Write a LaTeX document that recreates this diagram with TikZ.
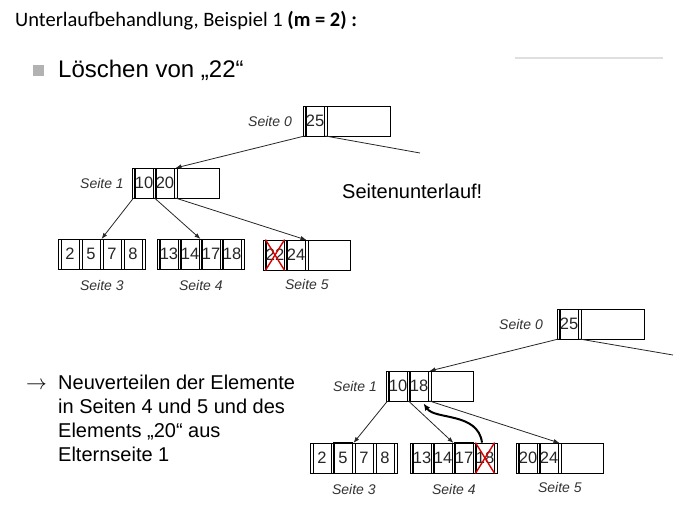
\documentclass[tikz,border=0pt]{standalone}
\usepackage{fontspec}
\setmainfont{Liberation Sans}
\newfontfamily\calibri{Carlito}
\usepackage{tikz}
\usetikzlibrary{calc,positioning,arrows.meta}
% one B-tree page: name, x, y (top left), keys
\newcommand{\bpage}[4]{%
  \node[pagebox] (#1) at (#2,#3) {};
  \coordinate (#1-p0) at ({#2+1.5},{#3+30});
  \coordinate (#1-q0) at ({#2+1.5},#3);
  \draw[cell] ({#2+3},#3) -- ++(0,30);
  \foreach \kv [count=\i] in {#4} {
    \node[keycell] (#1-k\i) at ({#2+21*\i-9},{#3+15}) {\kv};
    \coordinate (#1-p\i) at ({#2+21*\i+1.5},{#3+30});
    \coordinate (#1-q\i) at ({#2+21*\i+1.5},#3);
    \draw[cell] ({#2+21*\i+3},#3) -- ++(0,30);
  }
}
\def\crossout#1{\draw[redx] (#1.north west) -- (#1.south east) (#1.north east) -- (#1.south west);}

\begin{document}
\begin{tikzpicture}[x=1pt,y=-1pt,
    pagebox/.style={draw, line width=0.8pt, minimum width=87pt, minimum height=30pt, inner sep=0pt, anchor=north west},
    cell/.style={line width=0.8pt},
    keycell/.style={draw, line width=0.8pt, minimum width=18pt, minimum height=30pt, inner sep=0pt, text=black!85, font=\fontsize{16.5}{16.5}\selectfont},
    lbl/.style={font=\fontsize{14}{14}\selectfont\itshape, text=black!80, inner sep=0pt},
    ptr/.style={draw=black!85, line width=0.8pt, -{Latex[length=6pt,width=4.5pt]}},
    redx/.style={draw=red!85!black, line width=1.4pt},
    hl/.style={line width=1.6pt}]
	%%%%% START %%%%%
	\useasboundingbox (0,0) rectangle (690,506);
	
	\node[anchor=base west, inner sep=0pt, font=\calibri\fontsize{20.5}{20.5}\selectfont] (title) at (15,26) {Unterlaufbehandlung, Beispiel 1 \textbf{(m = 2) :}};
	\draw[gray!25, line width=1.5pt] (515,58) -- (663,58);
	
	\fill[gray!60] (33,65) rectangle (44,76);
	\node[anchor=base west, inner sep=0pt, font=\fontsize{24}{24}\selectfont] (loeschen) at (58,77) {Löschen von „22“};
	
	% before
	\bpage{s0a}{303}{106}{25}
	\bpage{s1a}{132}{168}{10,20}
	\bpage{s3a}{58}{239}{2,5,7,8}
	\bpage{s4a}{157}{239}{13,14,17,18}
	\bpage{s5a}{263}{240}{22,24}
	\crossout{s5a-k1}
	
	\node[lbl, left=11pt of s0a] {Seite 0};
	\node[lbl, left=8pt of s1a] {Seite 1};
	\node[lbl, below=10pt of s3a] {Seite 3};
	\node[lbl, below=10pt of s4a] {Seite 4};
	\node[lbl, below=8pt of s5a] {Seite 5};
	
	\coordinate (cut0a) at (420,153);
	\draw[ptr] (s0a-p0) -- (s1a-q2);
	\draw[draw=black!85, line width=0.8pt] (s0a-p1) -- (cut0a);
	\draw[ptr] (s1a-p0) -- (s3a-q2);
	\draw[ptr] (s1a-p1) -- (s4a-q2);
	\draw[ptr] (s1a-p2) -- (s5a-q2);
	
	\node[anchor=base west, inner sep=0pt, font=\fontsize{20}{20}\selectfont] (unterlauf) at (342,198) {Seitenunterlauf!};
	
	% after
	\bpage{s0b}{557}{309}{25}
	\bpage{s1b}{386}{371}{10,18}
	\bpage{s3b}{310}{443}{2,5,7,8}
	\bpage{s4b}{410}{443}{13,14,17,18}
	\bpage{s5b}{516}{443}{20,24}
	\crossout{s4b-k4}
	\draw[hl] (s3b-k2.north west) rectangle (s3b-k2.south east);
	\draw[hl] (s4b-k3.north west) rectangle (s4b-k3.south east);
	
	\node[lbl, left=14pt of s0b] {Seite 0};
	\node[lbl, left=9pt of s1b] {Seite 1};
	\node[lbl, below=10pt of s3b] {Seite 3};
	\node[lbl, below=10pt of s4b] {Seite 4};
	\node[lbl, below=8pt of s5b] {Seite 5};
	
	\coordinate (cut0b) at (673,355);
	\draw[ptr] (s0b-p0) -- (s1b-q2);
	\draw[draw=black!85, line width=0.8pt] (s0b-p1) -- (cut0b);
	\draw[ptr] (s1b-p0) -- (s3b-q2);
	\draw[ptr] (s1b-p1) -- (s4b-q2);
	\draw[ptr] (s1b-p2) -- (s5b-q2);
	\draw[line width=2pt, -{Latex[length=7pt,width=6pt]}] ($(s4b-k4.north)+(-3,0)$) .. controls (478,412) and (435,420) .. ($(s1b-k2.south east)+(-5,2)$);
	
	\node[anchor=base west, inner sep=0pt, font=\fontsize{20}{20}\selectfont] (pfeil) at (26,389) {$\rightarrow$};
	\node[anchor=north west, inner sep=0pt, align=left, font=\fontsize{20}{24}\selectfont] (erkl) at (58,375) {Neuverteilen der Elemente\\in Seiten 4 und 5 und des\\Elements „20“ aus\\Elternseite 1};
	
	%%%%% END %%%%%
\end{tikzpicture}
\end{document}
